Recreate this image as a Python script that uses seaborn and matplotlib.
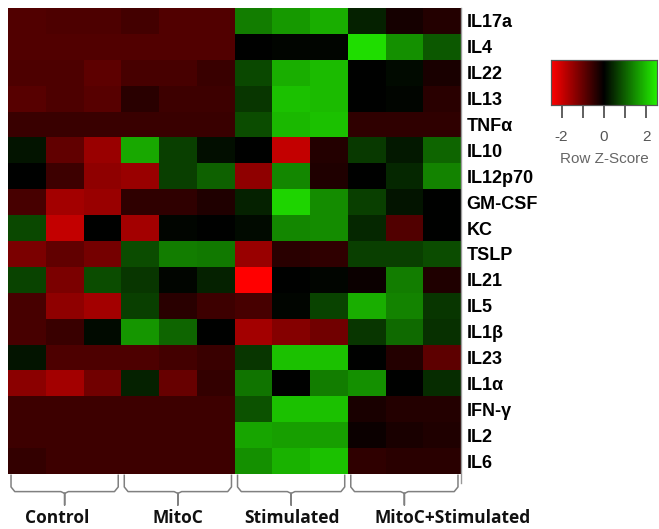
import numpy as np
import pandas as pd
import seaborn as sns
import matplotlib.pyplot as plt
from matplotlib.colors import LinearSegmentedColormap

cytokines = ["IL17a", "IL4", "IL22", "IL13", "TNFα", "IL10", "IL12p70", "GM-CSF", "KC",
             "TSLP", "IL21", "IL5", "IL1β", "IL23", "IL1α", "IFN-γ", "IL2", "IL6"]
groups = ["Control", "MitoC", "Stimulated", "MitoC+Stimulated"]

# row z-scores, three replicates per group, rows in cytokine order
control = [[-0.8, -0.75, -0.75], [-0.8, -0.8, -0.8], [-0.75, -0.75, -0.9], [-0.85, -0.75, -0.85],
           [-0.55, -0.55, -0.55], [0.2, -0.95, -1.5], [0.0, -0.6, -1.4], [-0.7, -1.6, -1.5],
           [0.75, -1.9, 0.0], [-1.2, -0.95, -1.15], [0.7, -1.2, 0.8], [-0.7, -1.4, -1.6],
           [-0.7, -0.55, 0.1], [0.2, -0.75, -0.75], [-1.35, -1.6, -1.1], [-0.6, -0.6, -0.6],
           [-0.6, -0.6, -0.6], [-0.5, -0.6, -0.6]]
mitoc = [[-0.65, -0.8, -0.8], [-0.8, -0.8, -0.8], [-0.7, -0.7, -0.55], [-0.4, -0.6, -0.6],
         [-0.55, -0.55, -0.55], [1.75, 0.65, 0.15], [-1.5, 0.65, 1.0], [-0.45, -0.45, -0.3],
         [-1.6, 0.05, 0.0], [0.8, 1.3, 1.25], [0.55, 0.05, 0.35], [0.65, -0.4, -0.6],
         [1.55, 1.05, 0.0], [-0.75, -0.65, -0.55], [0.35, -1.0, -0.5], [-0.6, -0.6, -0.6],
         [-0.6, -0.6, -0.6], [-0.6, -0.6, -0.6]]
stimulated = [[1.3, 1.6, 1.8], [0.0, 0.05, 0.05], [0.75, 1.8, 1.95], [0.55, 2.0, 1.95],
              [0.8, 1.9, 2.0], [0.0, -1.9, -0.35], [-1.4, 1.4, -0.3], [0.35, 2.2, 1.45],
              [0.1, 1.4, 1.45], [-1.5, -0.4, -0.45], [-2.5, 0.0, 0.05], [-0.7, 0.05, 0.7],
              [-1.6, -1.3, -1.1], [0.55, 2.0, 2.0], [1.2, 0.0, 1.3], [0.85, 2.0, 2.0],
              [1.7, 1.65, 1.65], [1.5, 1.85, 2.0]]
mitoc_stim = [[0.35, -0.2, -0.35], [2.3, 1.5, 0.9], [0.0, 0.1, -0.25], [0.0, 0.05, -0.4],
              [-0.45, -0.45, -0.45], [0.6, 0.25, 1.05], [0.0, 0.4, 1.35], [0.65, 0.2, 0.0],
              [0.4, -0.8, 0.0], [0.65, 0.65, 0.8], [-0.1, 1.3, -0.3], [1.8, 1.35, 0.55],
              [0.55, 1.1, 0.5], [0.0, -0.35, -0.9], [1.5, 0.0, 0.45], [-0.25, -0.35, -0.35],
              [-0.1, -0.25, -0.3], [-0.45, -0.4, -0.4]]

samples = [f"{g} {i}" for g in groups for i in (1, 2, 3)]
df = pd.DataFrame(np.hstack([control, mitoc, stimulated, mitoc_stim]), index=cytokines, columns=samples)

cmap = LinearSegmentedColormap.from_list("redgreen", ["#ff0000", "#000000", "#22f000"])

fig = plt.figure(figsize=(6.59, 5.29), dpi=100)
ax = fig.add_axes([8 / 659, 1 - 474 / 529, 453 / 659, 466 / 529])
cax = fig.add_axes([551 / 659, 1 - 105 / 529, 106 / 659, 45 / 529])

sns.heatmap(df, cmap=cmap, vmin=-2.5, vmax=2.5, ax=ax, cbar_ax=cax, xticklabels=False,
            cbar_kws=dict(orientation="horizontal", ticks=[-2, -1, 0, 1, 2]))

ax.yaxis.tick_right()
ax.set_yticks(np.arange(len(cytokines)) + 0.5)
ax.set_yticklabels(cytokines, rotation=0, fontsize=13, fontweight="bold", family="Liberation Sans")
ax.tick_params(axis="y", length=0, pad=4)
ax.set_xlabel("")
ax.set_ylabel("")
ax.plot([12, 12], [0, 18.35], color="#999999", lw=1, clip_on=False)

# group braces under the columns
for g, name in enumerate(groups):
    x0, x1, xm = 3 * g + 0.08, 3 * g + 2.92, 3 * g + 1.5
    xs = [x0, x0, x0 + 0.1, xm - 0.1, xm, xm, xm, xm + 0.1, x1 - 0.1, x1, x1]
    ys = [18.05, 18.5, 18.68, 18.68, 18.75, 19.2, 18.75, 18.68, 18.68, 18.5, 18.05]
    ax.plot(xs, ys, color="#808080", lw=1.1, clip_on=False)

label_x = [1.3, 4.5, 7.52, 11.79]
for x, name in zip(label_x, groups):
    ax.text(x, 19.7, name, ha="center", va="center", fontsize=12.5, fontweight="bold",
            family="Open Sans", color="#111111", clip_on=False)

cax.tick_params(axis="x", length=9, width=1.2, color="#444444", labelcolor="#555555", labelsize=11, pad=9)
cax.set_xticklabels(["-2", "", "0", "", "2"], family="Liberation Sans")
cax.set_xlabel("Row Z-Score", color="#666666", fontsize=11, family="Liberation Sans", labelpad=6)
for s in cax.spines.values():
    s.set_visible(True)
    s.set_color("#555555")
    s.set_linewidth(0.8)

fig.savefig("out.png", dpi=100)
